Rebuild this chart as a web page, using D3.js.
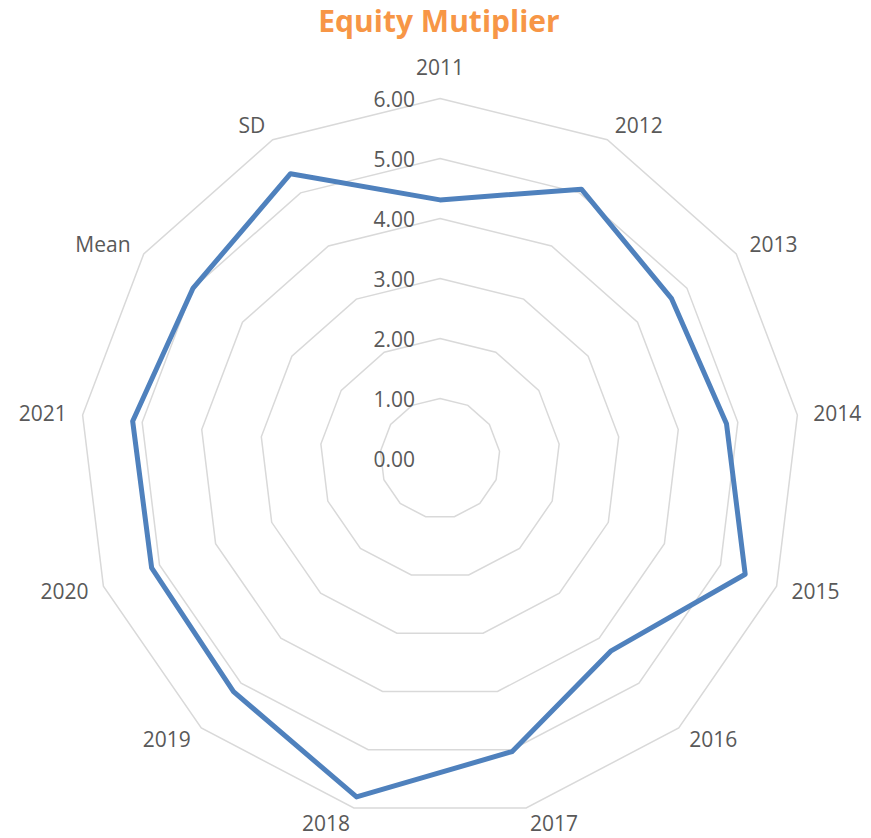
<!DOCTYPE html>
<html>
<head>
<meta charset="utf-8">
<script src="https://cdn.jsdelivr.net/npm/d3@7"></script>
<style>
  body { margin: 0; background: #fff; }
  svg text { font-family: "Open Sans", sans-serif; }
</style>
</head>
<body>
<div id="chart"></div>
<script>
(function() {
    let w = 871,
        h = 838,
        cx = 440,
        cy = 458.5;

    // data
    let categories = ["2011", "2012", "2013", "2014", "2015", "2016", "2017",
                      "2018", "2019", "2020", "2021", "Mean", "SD"];
    let values = [4.31, 5.07, 4.69, 4.81, 5.44, 4.29, 5.03,
                  5.81, 5.19, 5.14, 5.16, 5.00, 5.36];
    let ticks = [0, 1, 2, 3, 4, 5, 6];
    let tickLabels = ["0.00", "1.00", "2.00", "3.00", "4.00", "5.00", "6.00"];

    let svg = d3.select("#chart")
        .append("svg")
        .attr("width", w)
        .attr("height", h);

    let r = d3.scaleLinear().domain([0, 6]).range([0, 360]);
    let angle = d3.scalePoint()
        .domain(categories.concat(["_end"]))
        .range([0, 2 * Math.PI]);

    let g = svg.append("g").attr("transform", `translate(${cx},${cy})`);

    // grid rings
    let ring = d3.lineRadial()
        .angle(d => angle(d))
        .curve(d3.curveLinearClosed);

    g.append("g").selectAll("path")
        .data(ticks.filter(t => t > 0))
        .join("path")
        .attr("d", t => ring.radius(r(t))(categories))
        .attr("fill", "none")
        .attr("stroke", "#d9d9d9")
        .attr("stroke-width", 1.5);

    // tick labels
    g.append("g").selectAll("text")
        .data(ticks)
        .join("text")
        .attr("x", -25)
        .attr("y", t => -r(t))
        .attr("dy", "0.42em")
        .attr("text-anchor", "end")
        .attr("font-size", 21)
        .attr("fill", "#595959")
        .text((t, i) => tickLabels[i]);

    // category labels
    g.append("g").selectAll("text")
        .data(categories)
        .join("text")
        .each(function(d) {
            let a = angle(d),
                s = Math.sin(a),
                c = Math.cos(a);
            let x = (r(6) + 16) * s,
                y = -(r(6) + 9) * c - c * 7 - (c > 0.99 ? 15 : 0);
            d3.select(this)
                .attr("x", x)
                .attr("y", y)
                .attr("dy", "0.35em")
                .attr("text-anchor", s > 0.05 ? "start" : (s < -0.05 ? "end" : "middle"));
        })
        .attr("font-size", 21)
        .attr("fill", "#595959")
        .text(d => d);

    // series
    let line = d3.lineRadial()
        .angle((d, i) => angle(categories[i]))
        .radius(d => r(d))
        .curve(d3.curveLinearClosed);

    g.append("path")
        .datum(values)
        .attr("d", line)
        .attr("fill", "none")
        .attr("stroke", "#4f81bd")
        .attr("stroke-width", 5)
        .attr("stroke-linejoin", "round");

    // title
    svg.append("text")
        .attr("x", 439)
        .attr("y", 32)
        .attr("text-anchor", "middle")
        .attr("font-size", 30)
        .attr("font-weight", "bold")
        .attr("fill", "#f79646")
        .text("Equity Mutiplier");
})();
</script>
</body>
</html>
